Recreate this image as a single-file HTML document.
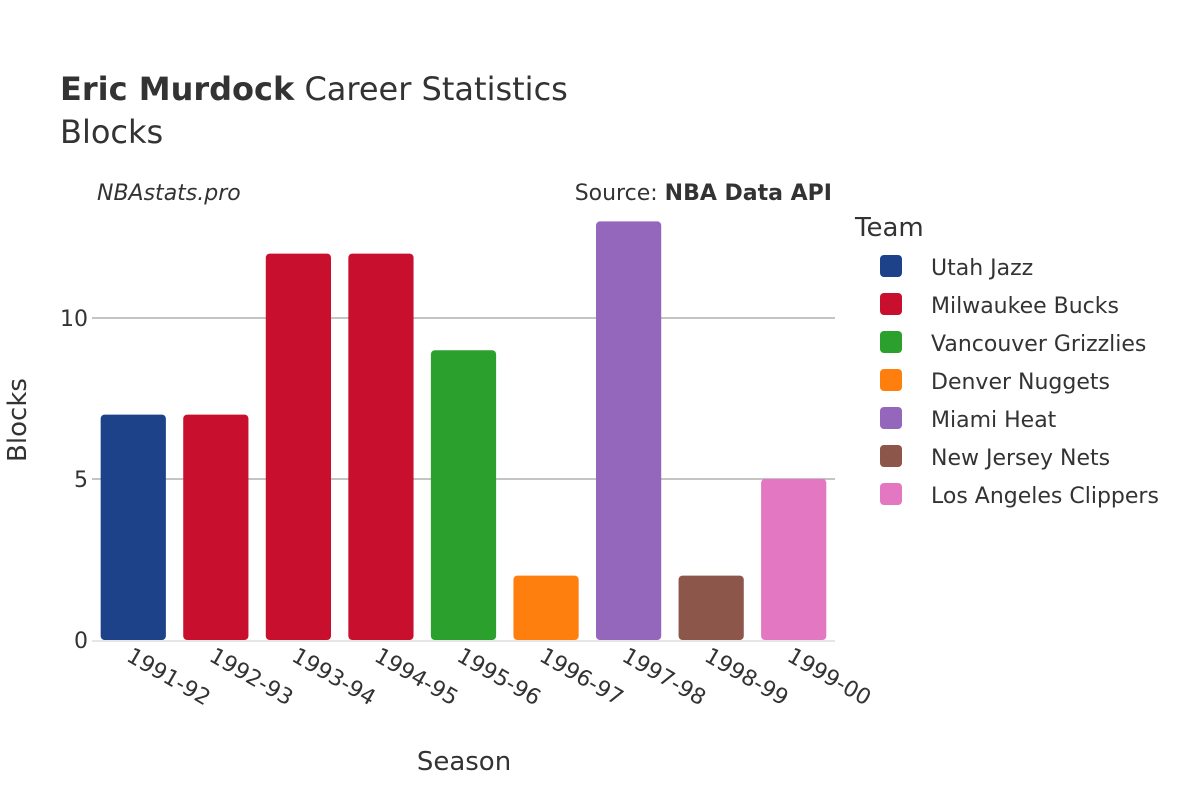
<!DOCTYPE html>
<html><head><meta charset="utf-8"><style>
body{margin:0;background:#fff;font-family:"DejaVu Sans","Liberation Sans",sans-serif;}
svg text{font-family:"DejaVu Sans","Liberation Sans",sans-serif;fill:#333;}
</style></head><body>
<svg id="chart" width="1200" height="800" viewBox="0 0 1200 800">
<text x="60" y="100" font-size="32"><tspan font-weight="bold">Eric Murdock</tspan> Career Statistics</text>
<text x="60" y="143" font-size="32">Blocks</text>
<text x="97" y="200" font-size="22" font-style="italic">NBAstats.pro</text>
<text x="832" y="200" font-size="22" text-anchor="end">Source: <tspan font-weight="bold">NBA Data API</tspan></text>
<g id="grid"></g>
<g id="bars"></g>
<g id="xticks"></g>
<g id="yticks"></g>
<text x="464" y="770" font-size="26" text-anchor="middle">Season</text>
<text transform="translate(26,420) rotate(-90)" font-size="26" text-anchor="middle">Blocks</text>
<text x="855" y="236" font-size="26">Team</text>
<g id="legend"></g>
</svg>
<script>
const seasons=["1991-92","1992-93","1993-94","1994-95","1995-96","1996-97","1997-98","1998-99","1999-00"];
const blocks=[7,7,12,12,9,2,13,2,5];
const teamOf=[0,1,1,1,2,3,4,5,6];
const teams=["Utah Jazz","Milwaukee Bucks","Vancouver Grizzlies","Denver Nuggets","Miami Heat","New Jersey Nets","Los Angeles Clippers"];
const colors=["#1d428a","#c8102e","#2ca02c","#ff7f0e","#9467bd","#8c564b","#e377c2"];
const yTicks=[0,5,10];
const NS="http://www.w3.org/2000/svg";
const x0=92,x1=835,yZero=640,yPer=32.2;
const band=(x1-x0)/seasons.length;
const xs=i=>x0+band*(i+0.5);
const ys=v=>yZero-v*yPer;
function mk(tag,attrs,parent){const e=document.createElementNS(NS,tag);for(const k in attrs)e.setAttribute(k,attrs[k]);document.getElementById(parent).appendChild(e);return e;}
yTicks.forEach(t=>{
  if(t>0){const l=mk('line',{x1:x0,x2:x1,y1:ys(t),y2:ys(t),stroke:'#888','stroke-width':1},'grid');
  
  }
  const tx=mk('text',{x:x0-4,y:ys(t)+8,'font-size':22,'text-anchor':'end'},'yticks');
  tx.textContent=t;
  
  
});
const zl=mk('line',{x1:x0,x2:x1,y1:yZero+1,y2:yZero+1,stroke:'#e6e6e6','stroke-width':2},'grid');


const bw=band*0.79;
blocks.forEach((v,i)=>{
  const r=mk('rect',{x:xs(i)-bw/2,y:ys(v),width:bw,height:yZero-ys(v),rx:4,fill:colors[teamOf[i]]},'bars');
  
  
  const t=mk('text',{transform:`translate(${xs(i)-8},${yZero+20}) rotate(30)`,'font-size':22},'xticks');
  t.textContent=seasons[i];
  
  
});
teams.forEach((n,i)=>{
  const y=266+i*38;
  const s=mk('rect',{x:880,y:y-11,width:22,height:22,rx:4,fill:colors[i]},'legend');
  
  
  const t=mk('text',{x:931,y:y+9,'font-size':22},'legend');
  t.textContent=n;
  
  
});
</script>
</body></html>
